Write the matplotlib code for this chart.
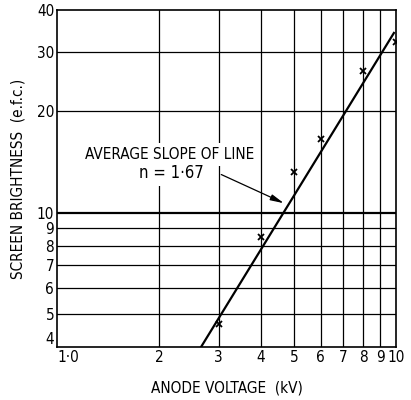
import matplotlib
matplotlib.use("Agg")
import matplotlib.pyplot as plt
from matplotlib.ticker import FixedLocator, NullLocator

plt.rcParams["font.family"] = ["DejaVu Sans"]
plt.rcParams["font.stretch"] = "condensed"

# measured points (anode voltage kV, brightness e.f.c.)
voltage = [3, 4, 5, 6, 8, 10]
brightness = [4.68, 8.5, 13.2, 16.6, 26.4, 32.1]

# fitted straight line, n = 1.67
fit_v = [2.66, 9.86]
fit_b = [4.0, 34.2]

x_ticks = [1, 2, 3, 4, 5, 6, 7, 8, 9, 10]
x_labels = ["1·0", "2", "3", "4", "5", "6", "7", "8", "9", "10"]
y_ticks = [4, 5, 6, 7, 8, 9, 10, 20, 30, 40]
y_labels = ["4", "5", "6", "7", "8", "9", "10", "20", "30", "40"]

fig = plt.figure(figsize=(4.11, 4.00), dpi=100)
ax = fig.add_axes([57 / 411, 1 - 347 / 400, 339 / 411, 337 / 400])

ax.set_xscale("log")
ax.set_yscale("log")
ax.set_xlim(1, 10)
ax.set_ylim(4, 40)

ax.xaxis.set_major_locator(FixedLocator(x_ticks))
ax.xaxis.set_minor_locator(NullLocator())
ax.yaxis.set_major_locator(FixedLocator(y_ticks))
ax.yaxis.set_minor_locator(NullLocator())
ax.set_xticklabels(x_labels, fontsize=11)
ax.set_yticklabels(y_labels, fontsize=11)
ax.tick_params(length=0, pad=2)
# keep the two corner labels apart
ax.get_xticklabels()[0].set_horizontalalignment("left")
ax.get_yticklabels()[0].set_verticalalignment("bottom")

for v in x_ticks[1:-1]:
    ax.axvline(v, color="black", lw=0.9, zorder=1)
for b in y_ticks[1:-1]:
    ax.axhline(b, color="black", lw=1.6 if b == 10 else 0.9, zorder=1)

for s in ax.spines.values():
    s.set_linewidth(1.2)

ax.plot(fit_v, fit_b, color="black", lw=1.6, zorder=3)
ax.plot(voltage, brightness, ls="none", marker="x", ms=5, mew=1.3,
        color="black", zorder=4)

# label block blanks out the grid behind it
ax.text(2.16, 14.0, " \n ", ha="center", va="center", fontsize=12, zorder=2,
        bbox=dict(boxstyle="square,pad=0.3", fc="white", ec="none"),
        color="white")
ax.text(2.15, 14.9, "AVERAGE SLOPE OF LINE", ha="center", va="center",
        fontsize=11, zorder=5,
        bbox=dict(boxstyle="square,pad=0.25", fc="white", ec="none"))
ax.text(2.18, 13.1, "n = 1·67", ha="center", va="center", fontsize=12, zorder=5,
        bbox=dict(boxstyle="square,pad=0.2", fc="white", ec="none"))
ax.annotate("", xy=(4.75, 10.6), xytext=(3.0, 13.1),
            arrowprops=dict(arrowstyle="-|>,head_length=0.8,head_width=0.18",
                            color="black", lw=0.9), zorder=6)

ax.set_xlabel("ANODE VOLTAGE  (kV)", fontsize=11, labelpad=11)
ax.set_ylabel("SCREEN BRIGHTNESS  (e.f.c.)", fontsize=11, labelpad=8)

fig.savefig("out.png", dpi=100)
